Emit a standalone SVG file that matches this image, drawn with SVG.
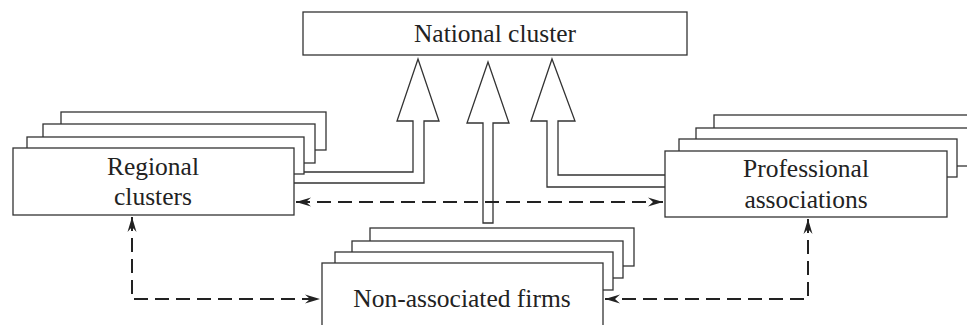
<svg xmlns="http://www.w3.org/2000/svg" width="967" height="325" viewBox="0 0 967 325">
<style>
.box{fill:#fff;stroke:#333;stroke-width:1.3}
text{font-family:'Liberation Serif','Times New Roman','DejaVu Serif',serif;font-size:25.5px;fill:#222;text-anchor:middle}
.big{fill:#fff;stroke:#333;stroke-width:1.3;stroke-linejoin:miter}
.dash{fill:none;stroke:#222;stroke-width:2;stroke-dasharray:14 7}
</style>
<defs>
<marker id="ah" viewBox="-15 -5 16 10" refX="0" refY="0" markerWidth="16" markerHeight="10" markerUnits="userSpaceOnUse" orient="auto-start-reverse">
<path d="M0,0 L-15,-4.5 L-10,0 L-15,4.5 z" fill="#222"/>
</marker>
</defs>
<rect width="967" height="325" fill="#fff"/>

<g id="national">
<rect class="box" x="303" y="12" width="384" height="43"/>
<text x="495" y="42" font-family="Liberation Serif, serif">National cluster</text>
</g>

<g id="connectors">
<path class="big" d="M304,172 L413,172 L413,121 L397,121 L418,59 L439,121 L424,121 L424,183 L294,183"/>
<path class="big" d="M483,223 L483,123 L467,123 L488,62 L509,123 L493,123 L493,223 Z"/>
<path class="big" d="M665,187 L547,187 L547,121 L531,121 L552,59 L575,121 L558,121 L558,175 L665,175"/>
<path class="dash" d="M296,202 L663,202" marker-start="url(#ah)" marker-end="url(#ah)"/>
<path class="dash" d="M132,217 L132,299 L320,299" marker-start="url(#ah)" marker-end="url(#ah)"/>
<path class="dash" d="M808,219 L808,299 L605,299" marker-start="url(#ah)" marker-end="url(#ah)"/>
</g>

<g id="regional">
<rect class="box" x="61" y="112" width="265" height="38"/>
<rect class="box" x="43" y="124" width="272" height="39"/>
<rect class="box" x="27" y="137" width="277" height="37"/>
<rect class="box" x="13" y="148" width="281" height="67"/>
<text x="153" y="175" font-family="Liberation Serif, serif">Regional</text>
<text x="153" y="205" font-family="Liberation Serif, serif">clusters</text>
</g>

<g id="professional">
<rect class="box" x="714" y="115" width="275" height="39"/>
<rect class="box" x="696" y="128" width="280" height="38"/>
<rect class="box" x="679" y="139" width="278" height="38"/>
<rect class="box" x="665" y="151" width="282" height="66"/>
<text x="806" y="177" font-family="Liberation Serif, serif">Professional</text>
<text x="806" y="208" font-family="Liberation Serif, serif">associations</text>
</g>

<g id="nonassociated">
<rect class="box" x="370" y="228" width="264" height="38"/>
<rect class="box" x="352" y="241" width="271" height="37"/>
<rect class="box" x="335" y="252" width="278" height="38"/>
<rect class="box" x="322" y="263" width="281" height="80"/>
<text x="462" y="307" font-family="Liberation Serif, serif">Non-associated firms</text>
</g>
</svg>
